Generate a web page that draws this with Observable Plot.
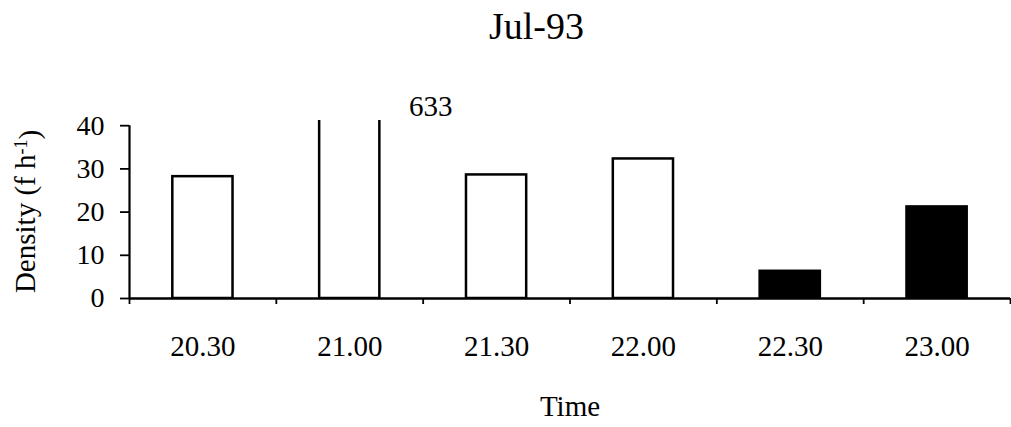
<!DOCTYPE html>
<html><head><meta charset="utf-8">
<script src="https://cdn.jsdelivr.net/npm/d3@7"></script>
<script src="https://cdn.jsdelivr.net/npm/@observablehq/plot@0.6"></script>
<style>body{margin:0;background:#fff}</style>
</head><body><div id="chart"></div>
<script>
const times = ["20.30", "21.00", "21.30", "22.00", "22.30", "23.00"];
const density = [28.2, 633, 28.6, 32.3, 6.3, 21.2];
const filled = [false, false, false, false, true, true];
const yTicks = [0, 10, 20, 30, 40];
const title = "Jul-93";
const xLabel = "Time";
const yLabel = "Density (f h-1)";
const yMax = 40;

const data = times.map((t, i) => ({t, i, v: density[i], fill: filled[i] ? "black" : "white"}));
const over = data.filter(d => d.v > yMax);
const centers = data.map(d => d.i);
const bounds = d3.range(-0.5, times.length, 1);
const halfBar = 0.205;
const font = "Liberation Serif, Times New Roman, serif";

const chart = Plot.plot({
  width: 1011, height: 427,
  marginLeft: 129, marginRight: 1, marginTop: 120, marginBottom: 129,
  style: {fontFamily: font, background: "white", color: "black", overflow: "visible"},
  color: {type: "identity"},
  x: {domain: [-0.5, times.length - 0.5], axis: null},
  y: {domain: [0, 41.2], axis: null},
  marks: [
    Plot.rectY(data, {x1: d => d.i - halfBar, x2: d => d.i + halfBar, y1: 0, y2: "v", fill: "fill", stroke: "black", strokeWidth: 2.5, clip: true}),
    Plot.ruleY([0], {stroke: "black", strokeWidth: 2.5}),
    Plot.ruleX([-0.5], {y1: 0, y2: yMax, stroke: "black", strokeWidth: 2.2}),
    Plot.axisY(yTicks, {tickSize: 9, tickPadding: 16, fontSize: 28, strokeWidth: 1.8, label: null, letterSpacing: 0.6}),
    Plot.axisX(bounds, {tickSize: 6, tickFormat: () => "", strokeWidth: 1.8, label: null}),
    Plot.axisX(centers, {tickSize: 0, tickPadding: 37, tickFormat: i => times[i], fontSize: 29, label: null, letterSpacing: 1}),
    Plot.text(over, {x: "i", text: d => String(d.v), frameAnchor: "top", dx: 81, dy: -14, fontSize: 29, lineAnchor: "middle", letterSpacing: 0.6}),
    Plot.text([xLabel], {frameAnchor: "bottom", dy: 108, fontSize: 29, lineAnchor: "middle", letterSpacing: 0.4}),
    Plot.text([yLabel], {frameAnchor: "left", textAnchor: "middle", rotate: -90, dx: -104, dy: 2, fontSize: 29, lineAnchor: "middle", letterSpacing: 0.4}),
    Plot.text([title], {frameAnchor: "top-left", textAnchor: "middle", dx: 407, dy: -94, fontSize: 38, lineAnchor: "middle", letterSpacing: 2})
  ]
});

// superscript for the y label unit
d3.select(chart).selectAll("text").filter(function() { return this.textContent === yLabel; })
  .each(function() {
    const t = d3.select(this);
    t.text(null);
    t.append("tspan").text("Density (f h");
    t.append("tspan").attr("dy", "-0.42em").attr("font-size", "0.62em").text("-1");
    t.append("tspan").attr("dy", "0.42em").text(")");
  });

document.getElementById("chart").append(chart);
</script>
</body></html>
